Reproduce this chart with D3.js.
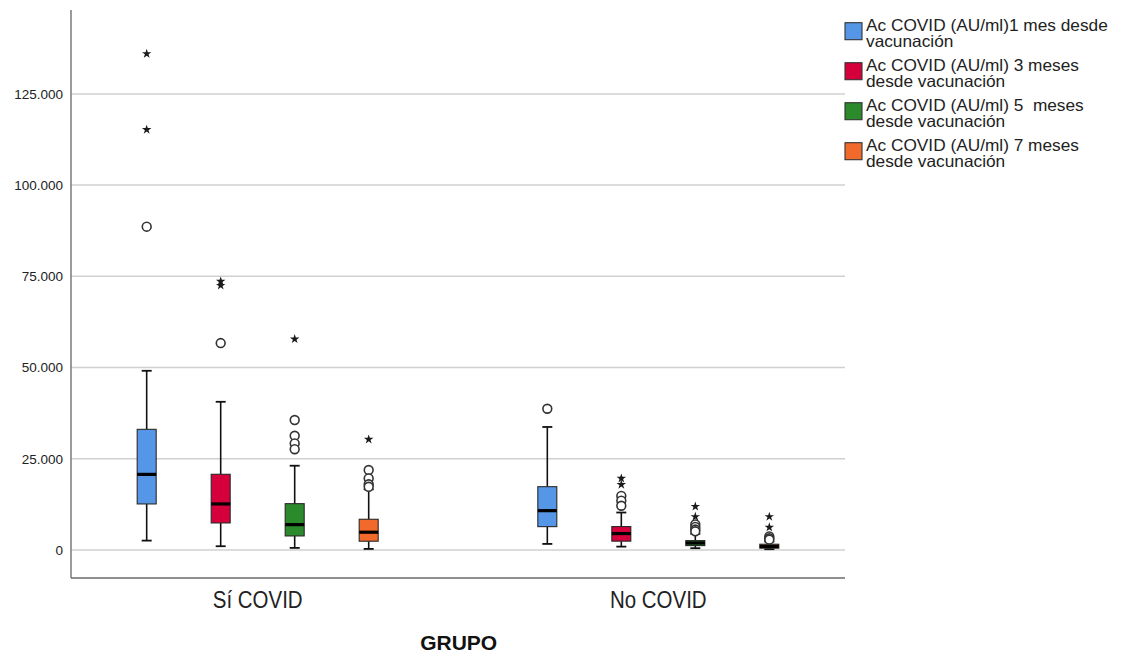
<!DOCTYPE html>
<html lang="es">
<head>
<meta charset="utf-8">
<script src="https://cdn.jsdelivr.net/npm/d3@7"></script>
<style>
  html, body { margin: 0; padding: 0; background: #ffffff; }
  svg { display: block; font-family: "Liberation Sans", Arial, sans-serif; }
</style>
</head>
<body>
<svg id="chart" width="1129" height="655"></svg>
<script>
// Groups on the x axis
const groups = ["Sí COVID", "No COVID"];

// Series (one box per series inside each group) and their legend text
const seriesKeys = ["m1", "m3", "m5", "m7"];
const seriesLabels = [
  ["Ac COVID (AU/ml)1 mes desde", "vacunación"],
  ["Ac COVID (AU/ml) 3 meses", "desde vacunación"],
  ["Ac COVID (AU/ml) 5  meses", "desde vacunación"],
  ["Ac COVID (AU/ml) 7 meses", "desde vacunación"]
];
const seriesColors = ["#5597e6", "#d5003b", "#2b8a2b", "#f26a2b"];

// Box statistics: [lower whisker, Q1, median, Q3, upper whisker]
const statsSiCovid = [
  [2550, 12600, 20700, 33050, 49100],
  [1010, 7390, 12600, 20730, 40600],
  [550, 3830, 6930, 12680, 23080],
  [270, 2380, 4850, 8400, 16600]
];
const statsNoCovid = [
  [1640, 6380, 10760, 17330, 33700],
  [900, 2400, 4480, 6400, 10250],
  [470, 1180, 1900, 2550, 4400],
  [200, 470, 960, 1560, 2300]
];

// Outliers (circles) and extreme values (stars)
const outliersSiCovid = [[88600], [56700], [35600, 31300, 29200, 27600], [21900, 19600, 18000, 17300]];
const extremesSiCovid = [[136000, 115200], [73600, 72500], [57800], [30300]];
const outliersNoCovid = [[38700], [14800, 13500, 12100], [7000, 6300, 5600, 5100], [3700, 3200, 2800]];
const extremesNoCovid = [[], [19600, 17900], [11900, 9100], [9100, 6200]];

// Y axis ticks
const yTicks = [0, 25000, 50000, 75000, 100000, 125000];

const xTitle = "GRUPO";

// ---- build rows ----
const statsByGroup = [statsSiCovid, statsNoCovid];
const outByGroup = [outliersSiCovid, outliersNoCovid];
const extByGroup = [extremesSiCovid, extremesNoCovid];

const boxes = [];
groups.forEach((g, gi) => {
  seriesKeys.forEach((s, si) => {
    const [lo, q1, med, q3, hi] = statsByGroup[gi][si];
    boxes.push({ group: g, key: s, color: seriesColors[si], lo, q1, med, q3, hi,
      outliers: outByGroup[gi][si], extremes: extByGroup[gi][si] });
  });
});

// ---- layout ----
const svg = d3.select("#chart");
const plotLeft = 71, plotRight = 845, plotTop = 10, plotBottom = 578;

const x0 = d3.scalePoint().domain(groups).range([plotLeft, plotRight]).padding(0.466);
const x1 = d3.scaleBand().domain(seriesKeys).range([-148, 148]);
const y = d3.scaleLinear().domain([-7700, 148000]).range([plotBottom, plotTop]);
const boxW = 19, capW = 10;

const fmt = d3.formatLocale({ decimal: ",", thousands: ".", grouping: [3], currency: ["", ""] }).format(",d");

// gridlines
svg.append("g")
  .selectAll("line")
  .data(yTicks)
  .join("line")
  .attr("x1", plotLeft).attr("x2", plotRight)
  .attr("y1", d => y(d)).attr("y2", d => y(d))
  .attr("stroke", "#d0d0d0").attr("stroke-width", 1.5);

// y axis labels
const yAxis = svg.append("g")
  .attr("transform", `translate(${plotLeft},0)`)
  .call(d3.axisLeft(y).tickValues(yTicks).tickSize(0).tickPadding(8).tickFormat(fmt));
yAxis.select(".domain").remove();
yAxis.selectAll("text")
  .attr("font-size", 13.5)
  .attr("fill", "#222")
  .attr("font-family", "'Liberation Sans', Arial, sans-serif");

// axis lines
svg.append("line")
  .attr("x1", plotLeft).attr("x2", plotLeft).attr("y1", plotTop).attr("y2", plotBottom)
  .attr("stroke", "#7a7a7a").attr("stroke-width", 1.5);
svg.append("line")
  .attr("x1", plotLeft).attr("x2", plotRight).attr("y1", plotBottom).attr("y2", plotBottom)
  .attr("stroke", "#6a6a6a").attr("stroke-width", 1.5);

// boxes
const bx = d => x0(d.group) + x1(d.key) + x1.bandwidth() / 2;
const gBox = svg.append("g").selectAll("g").data(boxes).join("g");

// whiskers
gBox.append("line")
  .attr("x1", bx).attr("x2", bx)
  .attr("y1", d => y(d.hi)).attr("y2", d => y(d.q3))
  .attr("stroke", "#111").attr("stroke-width", 1.6);
gBox.append("line")
  .attr("x1", bx).attr("x2", bx)
  .attr("y1", d => y(d.q1)).attr("y2", d => y(d.lo))
  .attr("stroke", "#111").attr("stroke-width", 1.6);
gBox.append("line")
  .attr("x1", d => bx(d) - capW / 2).attr("x2", d => bx(d) + capW / 2)
  .attr("y1", d => y(d.hi)).attr("y2", d => y(d.hi))
  .attr("stroke", "#111").attr("stroke-width", 1.8);
gBox.append("line")
  .attr("x1", d => bx(d) - capW / 2).attr("x2", d => bx(d) + capW / 2)
  .attr("y1", d => y(d.lo)).attr("y2", d => y(d.lo))
  .attr("stroke", "#111").attr("stroke-width", 1.8);

// box body
gBox.append("rect")
  .attr("x", d => bx(d) - boxW / 2)
  .attr("width", boxW)
  .attr("y", d => y(d.q3))
  .attr("height", d => y(d.q1) - y(d.q3))
  .attr("fill", d => d.color)
  .attr("stroke", "#2a2a2a").attr("stroke-width", 1.1);

// median
gBox.append("line")
  .attr("x1", d => bx(d) - boxW / 2).attr("x2", d => bx(d) + boxW / 2)
  .attr("y1", d => y(d.med)).attr("y2", d => y(d.med))
  .attr("stroke", "#000").attr("stroke-width", 3.2);

// outlier circles
gBox.selectAll("circle")
  .data(d => d.outliers.map(v => ({ v, cx: bx(d) })))
  .join("circle")
  .attr("cx", d => d.cx).attr("cy", d => y(d.v))
  .attr("r", 4.4)
  .attr("fill", "#fff").attr("stroke", "#333").attr("stroke-width", 1.6);

// extreme stars
const star = d3.symbol().type(d3.symbolStar).size(28);
gBox.selectAll("path.ext")
  .data(d => d.extremes.map(v => ({ v, cx: bx(d) })))
  .join("path")
  .attr("class", "ext")
  .attr("d", star)
  .attr("transform", d => `translate(${d.cx},${y(d.v)})`)
  .attr("fill", "#1a1a1a");

// group labels
svg.append("g").selectAll("text")
  .data(groups)
  .join("text")
  .attr("transform", d => `translate(${x0(d)},608) scale(0.89,1)`)
  .attr("text-anchor", "middle")
  .attr("font-size", 23)
  .attr("fill", "#222")
  .text(d => d);

// x axis title
svg.append("text")
  .attr("x", 458.7).attr("y", 650)
  .attr("text-anchor", "middle")
  .attr("font-size", 21)
  .attr("font-weight", "bold")
  .attr("fill", "#111")
  .text(xTitle);

// legend
const leg = svg.append("g").selectAll("g")
  .data(seriesKeys)
  .join("g")
  .attr("transform", (d, i) => `translate(845,${22.7 + i * 40})`);
leg.append("rect")
  .attr("width", 17).attr("height", 17)
  .attr("fill", (d, i) => seriesColors[i])
  .attr("stroke", "#333").attr("stroke-width", 1.1);
leg.each(function (d, i) {
  const t = d3.select(this).append("text")
    .attr("transform", "translate(21,0) scale(1.06,1)")
    .attr("font-size", 16.3)
    .attr("fill", "#222")
    .style("white-space", "pre");
  seriesLabels[i].forEach((line, li) => {
    t.append("tspan")
      .attr("x", 0)
      .attr("y", 7.8 + li * 17)
      .text(line);
  });
});
</script>
</body>
</html>
